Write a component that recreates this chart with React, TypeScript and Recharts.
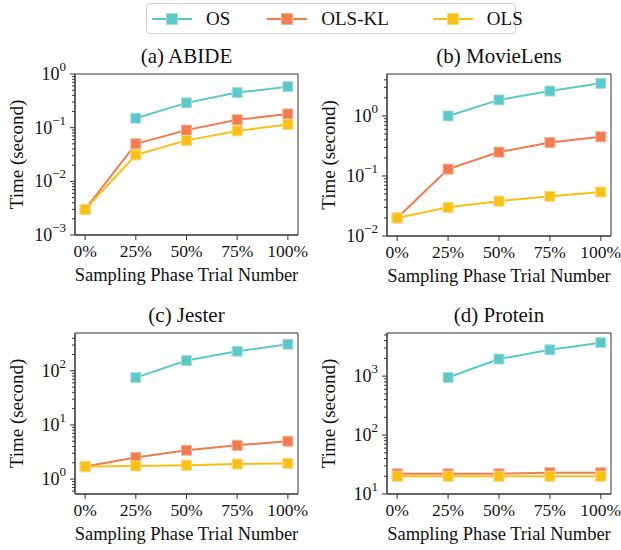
import React from 'react'
import { LineChart, Line, XAxis, YAxis, ReferenceArea } from 'recharts'

const categories = ['0%', '25%', '50%', '75%', '100%']
const seriesNames = ['OS', 'OLS-KL', 'OLS']
const seriesColors = ['#5ec8c9', '#f27b50', '#fac016']
const seriesEdges = ['#a6dfe0', '#f7b097', '#fcd975']

const abideOS = [null, 0.15, 0.29, 0.45, 0.58]
const abideOLSKL = [0.003, 0.05, 0.09, 0.14, 0.18]
const abideOLS = [0.003, 0.031, 0.058, 0.087, 0.115]

const movieOS = [null, 1.0, 1.85, 2.6, 3.5]
const movieOLSKL = [0.02, 0.13, 0.25, 0.36, 0.45]
const movieOLS = [0.02, 0.03, 0.038, 0.046, 0.054]

const jesterOS = [null, 75, 155, 230, 310]
const jesterOLSKL = [1.7, 2.5, 3.4, 4.2, 5.0]
const jesterOLS = [1.7, 1.75, 1.8, 1.9, 1.95]

const proteinOS = [null, 950, 1950, 2800, 3700]
const proteinOLSKL = [22, 22, 22, 23, 23]
const proteinOLS = [20, 20, 20, 20, 20]

const abideExps = [-3, -2, -1, 0]
const movieExps = [-2, -1, 0]
const jesterExps = [0, 1, 2]
const proteinExps = [1, 2, 3]

const FONT = '"Liberation Serif", "DejaVu Serif", "Times New Roman", serif'
const AXIS = '#333'

function buildRows(os: (number | null)[], kl: number[], ols: number[]) {
  return categories.map((c, i) => ({ idx: i, label: c, os: os[i], kl: kl[i], ols: ols[i] }))
}

function minorTicks(domain: [number, number]) {
  const out: number[] = []
  const lo = Math.floor(Math.log10(domain[0]))
  const hi = Math.ceil(Math.log10(domain[1]))
  for (let e = lo; e <= hi; e++) {
    for (let m = 2; m <= 9; m++) {
      const v = m * Math.pow(10, e)
      if (v > domain[0] && v < domain[1]) out.push(v)
    }
  }
  return out
}

function LogTick(props: any) {
  const { x, y, payload, exps } = props
  const v = payload.value
  const e = Math.round(Math.log10(v))
  const major = exps.includes(e) && Math.abs(v / Math.pow(10, e) - 1) < 1e-6
  const sup = e < 0 ? '\u2212' + Math.abs(e) : String(e)
  return (
    <g>
      <line x1={x - (major ? 5 : 3)} x2={x} y1={y} y2={y} stroke={AXIS} strokeWidth={1} />
      {major && (
        <text x={x - 9} y={y} dy={6} textAnchor="end" fontSize={18} fill="#111" fontFamily={FONT}>
          10
          <tspan dy={-9} fontSize={13}>{sup}</tspan>
        </text>
      )}
    </g>
  )
}

function YLabel(props: any) {
  const { viewBox } = props
  const cy = viewBox.y + viewBox.height / 2
  return (
    <text
      transform={`translate(${viewBox.x + 16},${cy}) rotate(-90)`}
      textAnchor="middle"
      dy="0.35em"
      fontSize={19}
      fill="#111"
      fontFamily={FONT}
    >
      Time (second)
    </text>
  )
}

const makeDot = (fill: string, edge: string) => (p: any) => {
  if (p.cx == null || p.cy == null || p.value == null || Number.isNaN(p.cy)) return <g key={`d-${p.index}`} />
  return (
    <rect key={`d-${p.index}`} x={p.cx - 5} y={p.cy - 5} width={10} height={10} fill={fill} stroke={edge} strokeWidth={1} />
  )
}

interface PanelProps {
  title: string
  rows: any[]
  domain: [number, number]
  exps: number[]
  left: number
  right: number
  top: number
  bottom: number
}

function Panel({ title, rows, domain, exps, left, right, top, bottom }: PanelProps) {
  const mTop = 34
  const mRight = 10
  const yW = 75
  const xH = 54
  const width = right - left + yW + mRight
  const height = bottom - top + mTop + xH
  const ticks = [...exps.map((e) => Math.pow(10, e)), ...minorTicks(domain)]
  const keys = ['os', 'kl', 'ols']
  return (
    <>
      <div
        style={{
          position: 'absolute',
          left,
          top: top - 28,
          width: right - left,
          textAlign: 'center',
          fontFamily: FONT,
          fontSize: 21,
          lineHeight: '21px',
          color: '#111',
          whiteSpace: 'nowrap',
        }}
      >
        {title}
      </div>
      <div style={{ position: 'absolute', left: left - yW, top: top - mTop }}>
        <LineChart width={width} height={height} data={rows} margin={{ top: mTop, right: mRight, left: 0, bottom: 0 }}>
          <XAxis
            dataKey="idx"
            type="number"
            domain={[-0.2, 4.2]}
            ticks={[0, 1, 2, 3, 4]}
            tickFormatter={(i: number) => categories[i]}
            height={xH}
            stroke={AXIS}
            tickSize={5}
            tickMargin={5}
            tick={{ fontSize: 17.5, fill: '#111', fontFamily: FONT }}
            label={{ value: 'Sampling Phase Trial Number', position: 'insideBottom', offset: 8, fontSize: 18.5, fill: '#111', fontFamily: FONT }}
          />
          <YAxis
            type="number"
            scale="log"
            domain={domain}
            ticks={ticks}
            interval={0}
            allowDataOverflow
            width={yW}
            stroke={AXIS}
            tickSize={0}
            tickMargin={0}
            tickLine={false}
            tick={(p: any) => <LogTick {...p} exps={exps} />}
            label={<YLabel />}
          />
          <ReferenceArea x1={-0.2} x2={4.2} y1={domain[0]} y2={domain[1]} fill="none" stroke={AXIS} strokeWidth={1} ifOverflow="visible" />
          {keys.map((k, i) => (
            <Line
              key={k}
              dataKey={k}
              stroke={seriesColors[i]}
              strokeWidth={2}
              dot={makeDot(seriesColors[i], seriesEdges[i])}
              activeDot={false}
              connectNulls={false}
              isAnimationActive={false}
            />
          ))}
        </LineChart>
      </div>
    </>
  )
}

function Legend() {
  const gaps = [0, 37, 44]
  return (
    <div
      style={{
        position: 'absolute',
        left: 146,
        top: 3,
        width: 368,
        height: 29,
        border: '1px solid #d0d0d0',
        borderRadius: 4,
        display: 'flex',
        alignItems: 'center',
        fontFamily: FONT,
        fontSize: 19,
        color: '#111',
        boxSizing: 'content-box',
        whiteSpace: 'nowrap',
      }}
    >
      {seriesNames.map((n, i) => (
        <div key={n} style={{ display: 'flex', alignItems: 'center', flexShrink: 0, marginLeft: i === 0 ? 5 : gaps[i] }}>
          <svg width={40} height={14} style={{ flexShrink: 0 }}>
            <line x1={0} x2={40} y1={7} y2={7} stroke={seriesColors[i]} strokeWidth={2} />
            <rect x={14.5} y={1.5} width={11} height={11} fill={seriesColors[i]} stroke={seriesEdges[i]} strokeWidth={1} />
          </svg>
          <span style={{ marginLeft: 14 }}>{n}</span>
        </div>
      ))}
    </div>
  )
}

export default function App() {
  return (
    <div style={{ position: 'fixed', left: 0, top: 0, width: 621, height: 550, background: '#fff', overflow: 'hidden' }}>
      <Legend />
      <Panel title="(a) ABIDE" rows={buildRows(abideOS, abideOLSKL, abideOLS)} domain={[0.001, 1]} exps={abideExps} left={75} right={298} top={74} bottom={235} />
      <Panel title="(b) MovieLens" rows={buildRows(movieOS, movieOLSKL, movieOLS)} domain={[0.01, 5.0]} exps={movieExps} left={387} right={611} top={74} bottom={236} />
      <Panel title="(c) Jester" rows={buildRows(jesterOS, jesterOLSKL, jesterOLS)} domain={[0.53, 500]} exps={jesterExps} left={75} right={298} top={333} bottom={494} />
      <Panel title="(d) Protein" rows={buildRows(proteinOS, proteinOLSKL, proteinOLS)} domain={[10, 5400]} exps={proteinExps} left={387} right={611} top={333} bottom={494} />
    </div>
  )
}
